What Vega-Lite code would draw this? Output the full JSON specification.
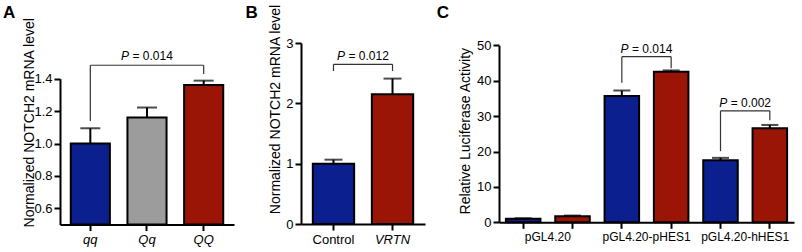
{
  "$schema": "https://vega.github.io/schema/vega-lite/v6.json",
  "padding": {"left": 2, "top": 3, "right": 2, "bottom": 2},
  "spacing": 11,
  "resolve": {"scale": {"color": "independent"}},
  "config": {
    "view": {"stroke": null},
    "font": "Liberation Sans",
    "axis": {"domainColor": "black", "domainWidth": 2, "tickColor": "black", "tickWidth": 2, "tickSize": 6, "labelColor": "black", "labelFontSize": 13, "labelPadding": 2, "labelOverlap": false, "labelBound": false, "titleColor": "black", "titleFontSize": 14, "titleFontWeight": "normal", "grid": false},
    "axisX": {"labelAngle": 0, "labelPadding": 3, "title": null},
    "title": {"fontSize": 17, "fontWeight": "bold", "anchor": "start", "frame": "bounds", "color": "black"}
  },
  "datasets": {
    "a": [{"g": "qq", "v": 1.0, "e": 1.094}, {"g": "Qq", "v": 1.16, "e": 1.222}, {"g": "QQ", "v": 1.361, "e": 1.388}],
    "a_br": [{"g": "qq", "g2": "QQ", "v": 1.483, "e": 1.483}, {"g": "qq", "g2": "qq", "v": 1.139, "e": 1.483}, {"g": "QQ", "g2": "QQ", "v": 1.429, "e": 1.483}],
    "a_p": [{"g": "Qq", "v": 1.54, "t": "= 0.014"}],
    "b": [{"g": "Control", "v": 1.0, "e": 1.066}, {"g": "VRTN", "v": 2.15, "e": 2.41}],
    "b_br": [{"g": "Control", "g2": "VRTN", "v": 2.647, "e": 2.647}, {"g": "Control", "g2": "Control", "v": 2.536, "e": 2.647}, {"g": "VRTN", "g2": "VRTN", "v": 2.536, "e": 2.647}],
    "b_p": [{"g": "Control", "v": 2.785, "t": "= 0.012"}],
    "c": [{"g": "1a", "s": "a", "v": 1.0, "e": 1.15}, {"g": "1b", "s": "b", "v": 1.7, "e": 1.9}, {"g": "2a", "s": "a", "v": 35.7, "e": 37.2}, {"g": "2b", "s": "b", "v": 42.5, "e": 42.9}, {"g": "3a", "s": "a", "v": 17.5, "e": 18.2}, {"g": "3b", "s": "b", "v": 26.6, "e": 27.5}],
    "c_br": [{"g": "2a", "g2": "2b", "v": 46.8, "e": 46.8}, {"g": "2a", "g2": "2a", "v": 39.4, "e": 46.8}, {"g": "2b", "g2": "2b", "v": 43.5, "e": 46.8}, {"g": "3a", "g2": "3b", "v": 31.5, "e": 31.5}, {"g": "3a", "g2": "3a", "v": 20.1, "e": 31.5}, {"g": "3b", "g2": "3b", "v": 28.8, "e": 31.5}],
    "c_p": [{"g": "2a", "v": 48.9, "t": "= 0.014"}, {"g": "3a", "v": 33.8, "t": "= 0.002"}]
  },
  "hconcat": [
    {
      "width": 174, "height": 181.5,
      "title": {"text": "A", "dx": -19, "offset": -5},
      "layer": [
        {"data": {"name": "a"}, "mark": {"type": "bar", "stroke": "black", "strokeWidth": 2},
         "encoding": {
           "x": {"field": "g", "type": "nominal", "scale": {"domain": ["qq", "Qq", "QQ"], "paddingInner": 0.31, "paddingOuter": 0.19}, "axis": {"labelFontStyle": "italic"}},
           "y": {"field": "v", "type": "quantitative", "scale": {"domain": [0.5, 1.4], "range": [181.5, 35.7], "zero": false, "nice": false}, "axis": {"title": "Normalized NOTCH2 mRNA level", "values": [0.6, 0.8, 1.0, 1.2, 1.4], "format": ".1f", "titleX": -24, "titleY": 79.3}},
           "y2": {"datum": 0.5},
           "color": {"field": "g", "type": "nominal", "scale": {"domain": ["qq", "Qq", "QQ"], "range": ["#0c1f8e", "#9c9c9c", "#9a1505"]}, "legend": null}
         }},
        {"data": {"name": "a"}, "mark": {"type": "rule", "color": "black", "strokeWidth": 2},
         "encoding": {"x": {"field": "g", "type": "nominal", "axis": {"labelFontStyle": "italic"}}, "y": {"field": "v", "type": "quantitative", "axis": {"title": "Normalized NOTCH2 mRNA level", "values": [0.6, 0.8, 1.0, 1.2, 1.4], "format": ".1f", "titleX": -24, "titleY": 79.3}}, "y2": {"field": "e"}}},
        {"data": {"name": "a"}, "mark": {"type": "tick", "color": "black", "thickness": 2, "size": 20},
         "encoding": {"x": {"field": "g", "type": "nominal", "axis": {"labelFontStyle": "italic"}}, "y": {"field": "e", "type": "quantitative", "axis": {"title": "Normalized NOTCH2 mRNA level", "values": [0.6, 0.8, 1.0, 1.2, 1.4], "format": ".1f", "titleX": -24, "titleY": 79.3}}}},
        {"data": {"name": "a_br"}, "mark": {"type": "rule", "color": "#333333", "strokeWidth": 1.2},
         "encoding": {"x": {"field": "g", "type": "nominal", "axis": {"labelFontStyle": "italic"}}, "x2": {"field": "g2"}, "y": {"field": "v", "type": "quantitative", "axis": {"title": "Normalized NOTCH2 mRNA level", "values": [0.6, 0.8, 1.0, 1.2, 1.4], "format": ".1f", "titleX": -24, "titleY": 79.3}}, "y2": {"field": "e"}}},
        {"data": {"name": "a_p"}, "mark": {"type": "text", "text": "P", "fontStyle": "italic", "fontSize": 12, "align": "right", "baseline": "middle", "dx": -17.9, "color": "black"},
         "encoding": {"x": {"field": "g", "type": "nominal", "axis": {"labelFontStyle": "italic"}}, "y": {"field": "v", "type": "quantitative", "axis": {"title": "Normalized NOTCH2 mRNA level", "values": [0.6, 0.8, 1.0, 1.2, 1.4], "format": ".1f", "titleX": -24, "titleY": 79.3}}}},
        {"data": {"name": "a_p"}, "mark": {"type": "text", "fontSize": 12, "align": "left", "baseline": "middle", "dx": -14.5, "color": "black"},
         "encoding": {"x": {"field": "g", "type": "nominal", "axis": {"labelFontStyle": "italic"}}, "y": {"field": "v", "type": "quantitative", "axis": {"title": "Normalized NOTCH2 mRNA level", "values": [0.6, 0.8, 1.0, 1.2, 1.4], "format": ".1f", "titleX": -24, "titleY": 79.3}}, "text": {"field": "t"}}}
      ]
    },
    {
      "width": 124, "height": 181,
      "title": {"text": "B", "dx": -23, "offset": -18},
      "layer": [
        {"data": {"name": "b"}, "mark": {"type": "bar", "stroke": "black", "strokeWidth": 2},
         "encoding": {
           "x": {"field": "g", "type": "nominal", "scale": {"domain": ["Control", "VRTN"], "paddingInner": 0.3, "paddingOuter": 0.2}, "axis": {"labelFontStyle": {"condition": {"test": "datum.value === 'VRTN'", "value": "italic"}, "value": "normal"}}},
           "y": {"field": "v", "type": "quantitative", "scale": {"domain": [0, 3], "range": [181, 0], "nice": false}, "axis": {"title": "Normalized NOTCH2 mRNA level", "values": [0, 1, 2, 3], "format": ".0f", "titleX": -18.5, "titleY": 66}},
           "y2": {"datum": 0},
           "color": {"field": "g", "type": "nominal", "scale": {"domain": ["Control", "VRTN"], "range": ["#0c1f8e", "#9a1505"]}, "legend": null}
         }},
        {"data": {"name": "b"}, "mark": {"type": "rule", "color": "black", "strokeWidth": 2},
         "encoding": {"x": {"field": "g", "type": "nominal", "axis": {"labelFontStyle": {"condition": {"test": "datum.value === 'VRTN'", "value": "italic"}, "value": "normal"}}}, "y": {"field": "v", "type": "quantitative", "axis": {"title": "Normalized NOTCH2 mRNA level", "values": [0, 1, 2, 3], "format": ".0f", "titleX": -18.5, "titleY": 66}}, "y2": {"field": "e"}}},
        {"data": {"name": "b"}, "mark": {"type": "tick", "color": "black", "thickness": 2, "size": 18},
         "encoding": {"x": {"field": "g", "type": "nominal", "axis": {"labelFontStyle": {"condition": {"test": "datum.value === 'VRTN'", "value": "italic"}, "value": "normal"}}}, "y": {"field": "e", "type": "quantitative", "axis": {"title": "Normalized NOTCH2 mRNA level", "values": [0, 1, 2, 3], "format": ".0f", "titleX": -18.5, "titleY": 66}}}},
        {"data": {"name": "b_br"}, "mark": {"type": "rule", "color": "#333333", "strokeWidth": 1.2},
         "encoding": {"x": {"field": "g", "type": "nominal", "axis": {"labelFontStyle": {"condition": {"test": "datum.value === 'VRTN'", "value": "italic"}, "value": "normal"}}}, "x2": {"field": "g2"}, "y": {"field": "v", "type": "quantitative", "axis": {"title": "Normalized NOTCH2 mRNA level", "values": [0, 1, 2, 3], "format": ".0f", "titleX": -18.5, "titleY": 66}}, "y2": {"field": "e"}}},
        {"data": {"name": "b_p"}, "mark": {"type": "text", "text": "P", "fontStyle": "italic", "fontSize": 12, "align": "right", "baseline": "middle", "dx": -17.9, "color": "black"},
         "encoding": {"x": {"field": "g", "type": "nominal", "bandPosition": 1.214, "axis": {"labelFontStyle": {"condition": {"test": "datum.value === 'VRTN'", "value": "italic"}, "value": "normal"}}}, "y": {"field": "v", "type": "quantitative", "axis": {"title": "Normalized NOTCH2 mRNA level", "values": [0, 1, 2, 3], "format": ".0f", "titleX": -18.5, "titleY": 66}}}},
        {"data": {"name": "b_p"}, "mark": {"type": "text", "fontSize": 12, "align": "left", "baseline": "middle", "dx": -14.5, "color": "black"},
         "encoding": {"x": {"field": "g", "type": "nominal", "bandPosition": 1.214, "axis": {"labelFontStyle": {"condition": {"test": "datum.value === 'VRTN'", "value": "italic"}, "value": "normal"}}}, "y": {"field": "v", "type": "quantitative", "axis": {"title": "Normalized NOTCH2 mRNA level", "values": [0, 1, 2, 3], "format": ".0f", "titleX": -18.5, "titleY": 66}}, "text": {"field": "t"}}}
      ]
    },
    {
      "width": 295, "height": 179.3,
      "title": {"text": "C", "dx": -21.3, "offset": 17},
      "layer": [
        {"data": {"name": "c"}, "mark": {"type": "bar", "stroke": "black", "strokeWidth": 2},
         "encoding": {
           "x": {"field": "g", "type": "nominal", "scale": {"domain": ["1a", "1b", "2a", "2b", "3a", "3b"], "paddingInner": 0.3, "paddingOuter": 0.14}, "axis": {"labelExpr": "datum.value === '1a' ? 'pGL4.20' : datum.value === '2a' ? 'pGL4.20-pHES1' : datum.value === '3a' ? 'pGL4.20-hHES1' : ''", "labelOffset": 24.7, "labelFontSize": 12}},
           "y": {"field": "v", "type": "quantitative", "scale": {"domain": [0, 50], "range": [179.3, 2.3], "nice": false}, "axis": {"title": "Relative Luciferase Activity", "values": [0, 10, 20, 30, 40, 50], "titleX": -27, "titleY": 87.7}},
           "color": {"field": "s", "type": "nominal", "scale": {"domain": ["a", "b"], "range": ["#0c1f8e", "#9a1505"]}, "legend": null}
         }},
        {"data": {"name": "c"}, "mark": {"type": "rule", "color": "black", "strokeWidth": 2},
         "encoding": {"x": {"field": "g", "type": "nominal", "axis": {"labelExpr": "datum.value === '1a' ? 'pGL4.20' : datum.value === '2a' ? 'pGL4.20-pHES1' : datum.value === '3a' ? 'pGL4.20-hHES1' : ''", "labelOffset": 24.7, "labelFontSize": 12}}, "y": {"field": "v", "type": "quantitative", "axis": {"title": "Relative Luciferase Activity", "values": [0, 10, 20, 30, 40, 50], "titleX": -27, "titleY": 87.7}}, "y2": {"field": "e"}}},
        {"data": {"name": "c"}, "mark": {"type": "tick", "color": "black", "thickness": 2, "size": 17},
         "encoding": {"x": {"field": "g", "type": "nominal", "axis": {"labelExpr": "datum.value === '1a' ? 'pGL4.20' : datum.value === '2a' ? 'pGL4.20-pHES1' : datum.value === '3a' ? 'pGL4.20-hHES1' : ''", "labelOffset": 24.7, "labelFontSize": 12}}, "y": {"field": "e", "type": "quantitative", "axis": {"title": "Relative Luciferase Activity", "values": [0, 10, 20, 30, 40, 50], "titleX": -27, "titleY": 87.7}}}},
        {"data": {"name": "c_br"}, "mark": {"type": "rule", "color": "#333333", "strokeWidth": 1.2},
         "encoding": {"x": {"field": "g", "type": "nominal", "axis": {"labelExpr": "datum.value === '1a' ? 'pGL4.20' : datum.value === '2a' ? 'pGL4.20-pHES1' : datum.value === '3a' ? 'pGL4.20-hHES1' : ''", "labelOffset": 24.7, "labelFontSize": 12}}, "x2": {"field": "g2"}, "y": {"field": "v", "type": "quantitative", "axis": {"title": "Relative Luciferase Activity", "values": [0, 10, 20, 30, 40, 50], "titleX": -27, "titleY": 87.7}}, "y2": {"field": "e"}}},
        {"data": {"name": "c_p"}, "mark": {"type": "text", "text": "P", "fontStyle": "italic", "fontSize": 12, "align": "right", "baseline": "middle", "dx": -17.9, "color": "black"},
         "encoding": {"x": {"field": "g", "type": "nominal", "bandPosition": 1.214, "axis": {"labelExpr": "datum.value === '1a' ? 'pGL4.20' : datum.value === '2a' ? 'pGL4.20-pHES1' : datum.value === '3a' ? 'pGL4.20-hHES1' : ''", "labelOffset": 24.7, "labelFontSize": 12}}, "y": {"field": "v", "type": "quantitative", "axis": {"title": "Relative Luciferase Activity", "values": [0, 10, 20, 30, 40, 50], "titleX": -27, "titleY": 87.7}}}},
        {"data": {"name": "c_p"}, "mark": {"type": "text", "fontSize": 12, "align": "left", "baseline": "middle", "dx": -14.5, "color": "black"},
         "encoding": {"x": {"field": "g", "type": "nominal", "bandPosition": 1.214, "axis": {"labelExpr": "datum.value === '1a' ? 'pGL4.20' : datum.value === '2a' ? 'pGL4.20-pHES1' : datum.value === '3a' ? 'pGL4.20-hHES1' : ''", "labelOffset": 24.7, "labelFontSize": 12}}, "y": {"field": "v", "type": "quantitative", "axis": {"title": "Relative Luciferase Activity", "values": [0, 10, 20, 30, 40, 50], "titleX": -27, "titleY": 87.7}}, "text": {"field": "t"}}}
      ]
    }
  ]
}
